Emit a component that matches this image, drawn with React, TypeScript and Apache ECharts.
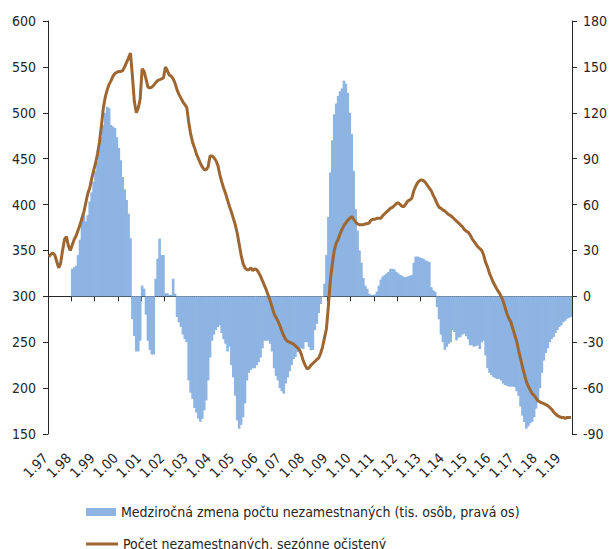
import React, { useEffect, useRef } from "react";
import * as echarts from "echarts";

// Monthly categories Jan 1997 .. Jun 2019, labelled "m.yy"
const startYear = 1997;
const monthCount = 270;
const categories: string[] = [];
for (let i = 0; i < monthCount; i++) {
  const m = (i % 12) + 1;
  const y = (startYear + Math.floor(i / 12)) % 100;
  categories.push(`${m}.${String(y).padStart(2, "0")}`);
}

// Year-on-year change in unemployed (thous., right axis)
const yoyChange: (number | null)[] = [
  // 1997
  null, null, null, null, null, null, null, null, null, null, null, null,
  // 1998
  18, 19, 20, 27, 37, 52, 53, 49, 53, 62, 68, 75,
  // 1999
  82, 88, 96, 104, 112, 120, 124, 123, 112, 111, 110, 104,
  // 2000
  97, 89, 78, 70, 63, 54, 38, -15, -26, -36, -36, -29,
  // 2001
  7, 5, -12, -29, -35, -38, -38, 11.5, 24.6, 37.7, 27, 27,
  // 2002
  2, 2, 1, 1, 11.5, 1.8, -13.5, -17, -20, -25, -28, -30,
  // 2003
  -55, -63, -67, -73, -76, -80, -82, -80, -74.5, -68, -55, -40,
  // 2004
  -29, -25, -22, -20, -19, -24, -28, -31, -36, -33, -45, -53,
  // 2005
  -65, -81, -86.5, -84, -79, -70, -55, -50, -48, -47, -47, -45,
  // 2006
  -43, -40, -34, -29, -29, -29, -31, -36, -47, -52, -55, -60,
  // 2007
  -62, -63.6, -57, -53, -49, -45, -41, -39.7, -36.4, -34, -34, -34.5,
  // 2008
  -30, -30, -33, -35.3, -35, -22, -18, -11, -5, -0.5, 8.3, 27,
  // 2009
  52, 81, 102, 119, 126, 131, 134, 136, 141, 139, 133, 120,
  // 2010
  106, 82, 57, 43, 30, 22, 12, 7, 5, 1.7, 1, 1,
  // 2011
  1.2, 3, 7, 11, 13, 14, 15, 16, 18, 18, 17.6, 16,
  // 2012
  15, 14, 13.5, 12.6, 12.6, 13, 13.5, 14, 22, 26, 26, 25.5,
  // 2013
  25, 24.6, 23.5, 23, 22.4, 6, 4, 3, -7, -15, -25, -30,
  // 2014
  -35, -33, -31, -30, -22, -23.3, -28.8, -27, -26.6, -25, -24.4, -26,
  // 2015
  -28, -32, -32, -33, -32.5, -32, -34.5, -30, -29, -38.6, -47, -50,
  // 2016
  -51.5, -52.7, -53.5, -54, -54, -55, -57, -58, -58.5, -59, -59, -59,
  // 2017
  -59.3, -62, -65, -72, -78, -82.2, -86.5, -85, -83, -82, -79, -73.4,
  // 2018
  -68, -60, -50, -42, -37, -34, -30, -28, -26.6, -24, -22, -20,
  // 2019
  -19, -17, -16, -14.6, -14, -13.5,
];

// Unemployed, seasonally adjusted (thous., left axis)
const unemployed: number[] = [
  // 1997
  343, 346, 347, 345, 338, 331, 336, 350, 362, 365, 355, 350,
  // 1998
  356, 362, 366, 372, 378, 385, 392, 402, 412, 418, 428, 437,
  // 1999
  445, 455, 468, 485, 505, 517, 525, 531, 535, 540, 543, 544,
  // 2000
  545, 545, 546, 550, 555, 560, 565, 540, 512, 500, 505, 515,
  // 2001
  548, 545, 537, 528, 527, 528, 530, 533, 535, 536, 537, 538,
  // 2002
  550, 546, 541, 540, 537, 532, 525, 520, 516, 512, 509, 506,
  // 2003
  490, 477, 468, 462, 455, 450, 445, 441, 438, 438, 441, 453,
  // 2004
  453, 451, 448, 443, 433, 425, 418, 412, 405, 398, 392, 385,
  // 2005
  378, 369, 357, 345, 336, 331, 329, 329, 331, 328, 330, 329,
  // 2006
  326, 322, 317, 312, 307, 301, 295, 288, 281, 277, 273, 268,
  // 2007
  262, 257, 253, 251, 250, 249, 248, 246, 244, 242, 237, 230,
  // 2008
  225, 221, 222, 225, 227, 229, 231, 233, 238, 245, 255, 265,
  // 2009
  290, 318, 335, 350, 358, 362, 368, 373, 377, 380, 383, 385,
  // 2010
  387, 384, 381, 379, 378, 378, 378, 379, 379, 380, 383, 384,
  // 2011
  384, 385, 385, 385, 388, 390, 392, 394, 396, 397, 399, 401,
  // 2012
  402, 400, 398, 398, 401, 404, 405, 407, 415, 420, 424, 426,
  // 2013
  427, 426, 424, 421, 418, 415, 410, 406, 401, 397, 396, 394,
  // 2014
  393, 391, 389, 388, 386, 384, 382, 380, 378, 376, 373, 371,
  // 2015
  370, 367, 363, 360, 357, 354, 352, 350, 345, 337, 332, 325,
  // 2016
  320, 315, 311, 307, 304, 300, 295, 288, 281, 276, 272, 265,
  // 2017
  258, 251, 241, 232, 223, 215, 207, 202, 198, 194, 192, 189,
  // 2018
  186, 185, 184, 183, 182, 181, 179, 177, 174, 172, 170, 169,
  // 2019
  168, 168, 167, 168, 168, 168,
];

const leftTicks = { min: 150, max: 600, interval: 50 };
const rightTicks = { min: -90, max: 180, interval: 30 };

const barName = "Medziročná zmena počtu nezamestnaných (tis. osôb, pravá os)";
const lineName = "Počet nezamestnaných, sezónne očistený";

const FONT = '"DejaVu Sans Condensed", "Liberation Sans", sans-serif';
const TXT = "#262626";
const BAR = "#8DB4E2";
const LINE = "#9E6630";

export default function App() {
  const ref = useRef<HTMLDivElement>(null);
  useEffect(() => {
    if (!ref.current) return;
    const chart = echarts.init(ref.current, null, { renderer: "svg" });
    const legendText = { fontFamily: FONT, fontSize: 14, color: TXT };
    chart.setOption({
      animation: false,
      textStyle: { fontFamily: FONT, color: TXT },
      grid: { left: 48, right: 34, top: 21, bottom: 115, containLabel: false },
      legend: [
        {
          left: 86,
          top: 505,
          padding: 0,
          itemWidth: 30,
          itemHeight: 8,
          itemGap: 0,
          selectedMode: false,
          textStyle: legendText,
          data: [{ name: barName, icon: "rect" }],
        },
        {
          left: 86,
          top: 537,
          padding: 0,
          itemWidth: 32,
          itemHeight: 3,
          itemGap: 0,
          selectedMode: false,
          textStyle: legendText,
          data: [{ name: lineName, icon: "rect" }],
        },
      ],
      xAxis: [
        {
          type: "category",
          data: categories,
          boundaryGap: true,
          position: "bottom",
          axisLine: { show: false, onZero: false },
          axisTick: { show: false },
          axisLabel: {
            interval: 11,
            rotate: 45,
            margin: 18,
            padding: [0, 5, 0, 0],
            fontFamily: FONT,
            fontSize: 14,
            color: TXT,
          },
        },
        {
          type: "category",
          data: categories,
          boundaryGap: true,
          position: "bottom",
          axisLine: { show: true, onZero: true, onZeroAxisIndex: 1, lineStyle: { color: TXT, width: 1 } },
          axisTick: { show: true, interval: 11, length: 5, lineStyle: { color: TXT } },
          axisLabel: { show: false },
        },
      ],
      yAxis: [
        {
          type: "value",
          position: "left",
          ...leftTicks,
          axisLine: { show: true, lineStyle: { color: TXT } },
          axisTick: { show: true, length: 5, lineStyle: { color: TXT } },
          splitLine: { show: false },
          axisLabel: { margin: 12, fontFamily: FONT, fontSize: 14, color: TXT },
        },
        {
          type: "value",
          position: "right",
          ...rightTicks,
          axisLine: { show: true, lineStyle: { color: TXT } },
          axisTick: { show: true, length: 5, lineStyle: { color: TXT } },
          splitLine: { show: false },
          axisLabel: { margin: 11, fontFamily: FONT, fontSize: 14, color: TXT },
        },
      ],
      series: [
        {
          name: barName,
          type: "bar",
          xAxisIndex: 0,
          yAxisIndex: 1,
          data: yoyChange,
          barWidth: "135%",
          itemStyle: { color: BAR },
        },
        {
          name: lineName,
          type: "line",
          xAxisIndex: 0,
          yAxisIndex: 0,
          data: unemployed,
          symbol: "none",
          showSymbol: false,
          lineStyle: { color: LINE, width: 3 },
          itemStyle: { color: LINE },
        },
      ],
    });
    return () => chart.dispose();
  }, []);
  return <div ref={ref} style={{ width: 610, height: 549, position: "absolute", left: 0, top: 0 }} />;
}
